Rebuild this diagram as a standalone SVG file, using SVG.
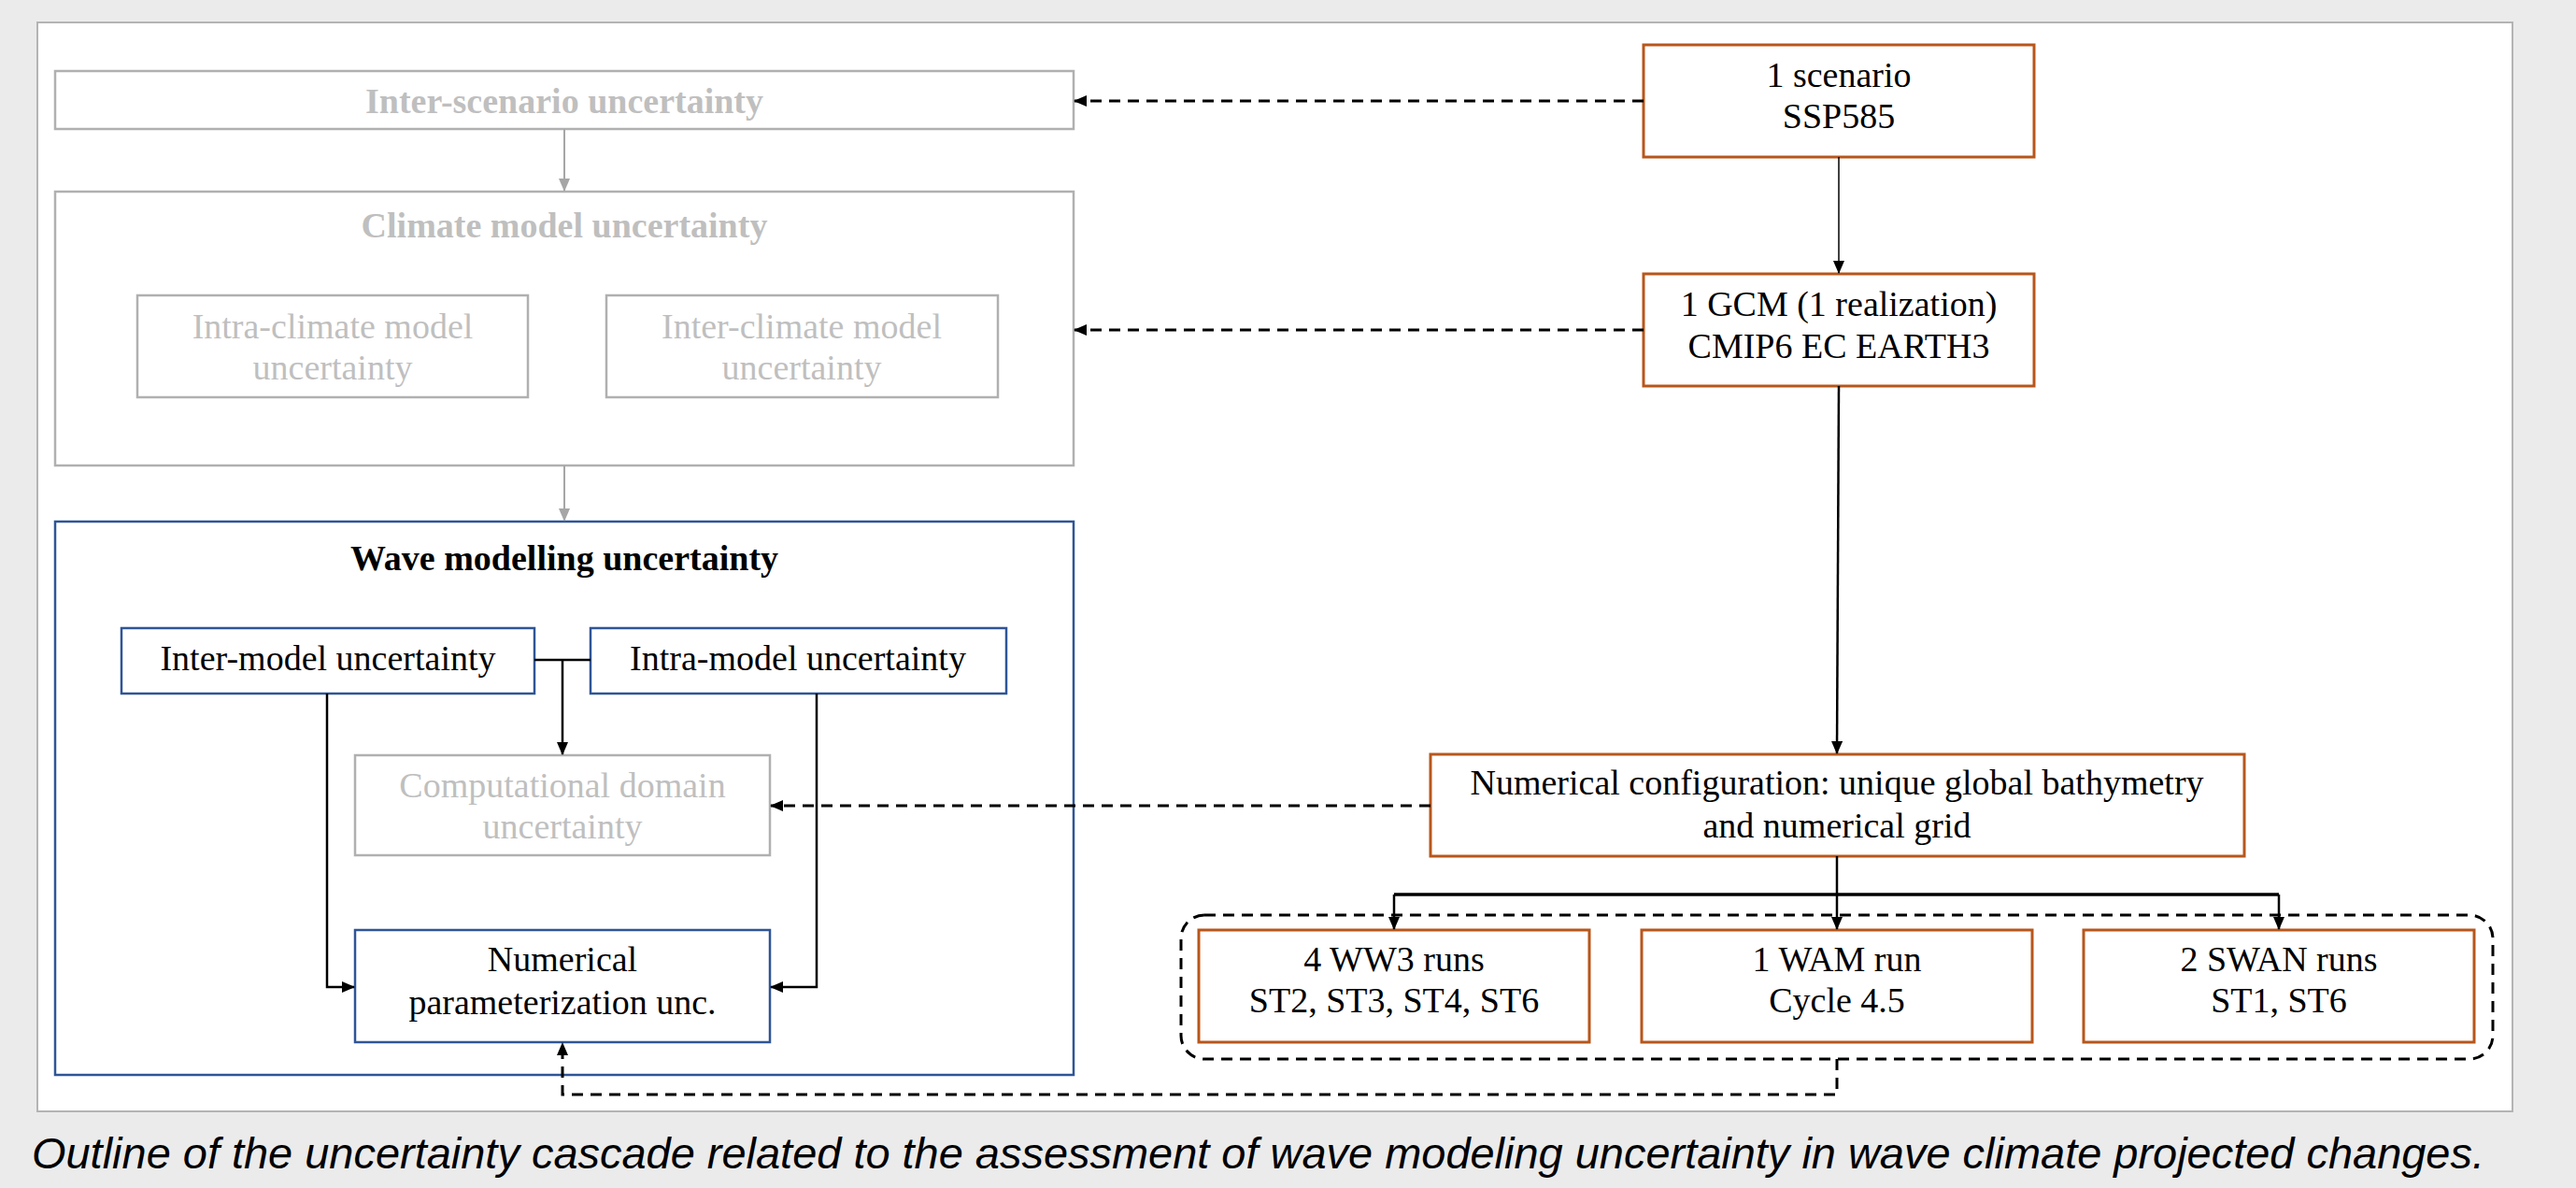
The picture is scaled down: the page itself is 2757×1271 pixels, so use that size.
<svg xmlns="http://www.w3.org/2000/svg" width="2757" height="1271" viewBox="0 0 2757 1271">
<defs>
<style>
.t{font-family:"Liberation Serif","Times New Roman",serif;font-size:38px;text-anchor:middle;fill:#000}
.tg{fill:#bfbfbf}
.b{font-weight:bold}
.gbox{fill:#fff;stroke:#b0b0b0;stroke-width:2.5}
.bbox{fill:#fff;stroke:#2f5597;stroke-width:2.5}
.obox{fill:#fff;stroke:#b8561b;stroke-width:3}
.c{fill:none;stroke:#000;stroke-width:2.5}
.cg{fill:none;stroke:#a6a6a6;stroke-width:2}
.d{fill:none;stroke:#000;stroke-width:3;stroke-dasharray:12 8}
.cap{font-family:"Liberation Sans",Arial,sans-serif;font-style:italic;font-size:47px;fill:#000}
</style>
<marker id="ab" markerUnits="userSpaceOnUse" markerWidth="14" markerHeight="12" refX="13" refY="6" orient="auto"><path d="M0,0 L14,6 L0,12 Z" fill="#000"/></marker>
<marker id="ag" markerUnits="userSpaceOnUse" markerWidth="14" markerHeight="12" refX="13" refY="6" orient="auto"><path d="M0,0 L14,6 L0,12 Z" fill="#a6a6a6"/></marker>
</defs>
<rect x="0" y="0" width="2757" height="1271" fill="#ebebeb"/>
<rect x="40" y="24" width="2649" height="1165" fill="#fff" stroke="#b4b4b4" stroke-width="2"/>

<g id="inter-scenario">
<rect class="gbox" x="59" y="76" width="1090" height="62"/>
<text class="t tg b" x="604" y="121">Inter-scenario uncertainty</text>
</g>
<g id="climate-model">
<rect class="gbox" x="59" y="205" width="1090" height="293"/>
<text class="t tg b" x="604" y="254">Climate model uncertainty</text>
</g>
<g id="intra-climate">
<rect class="gbox" x="147" y="316" width="418" height="109"/>
<text class="t tg" x="356" y="362">Intra-climate model</text>
<text class="t tg" x="356" y="406">uncertainty</text>
</g>
<g id="inter-climate">
<rect class="gbox" x="649" y="316" width="419" height="109"/>
<text class="t tg" x="858" y="362">Inter-climate model</text>
<text class="t tg" x="858" y="406">uncertainty</text>
</g>
<g id="wave-modelling">
<rect class="bbox" x="59" y="558" width="1090" height="592"/>
<text class="t b" x="604" y="610">Wave modelling uncertainty</text>
</g>
<g id="inter-model">
<rect class="bbox" x="130" y="672" width="442" height="70"/>
<text class="t" x="351" y="717">Inter-model uncertainty</text>
</g>
<g id="intra-model">
<rect class="bbox" x="632" y="672" width="445" height="70"/>
<text class="t" x="854" y="717">Intra-model uncertainty</text>
</g>
<g id="computational-domain">
<rect class="gbox" x="380" y="808" width="444" height="107"/>
<text class="t tg" x="602" y="853">Computational domain</text>
<text class="t tg" x="602" y="897">uncertainty</text>
</g>
<g id="numerical-parameterization">
<rect class="bbox" x="380" y="995" width="444" height="120"/>
<text class="t" x="602" y="1039">Numerical</text>
<text class="t" x="602" y="1085">parameterization unc.</text>
</g>
<g id="scenario">
<rect class="obox" x="1759" y="48" width="418" height="120"/>
<text class="t" x="1968" y="93">1 scenario</text>
<text class="t" x="1968" y="137">SSP585</text>
</g>
<g id="gcm">
<rect class="obox" x="1759" y="293" width="418" height="120"/>
<text class="t" x="1968" y="338">1 GCM (1 realization)</text>
<text class="t" x="1968" y="383">CMIP6 EC EARTH3</text>
</g>
<g id="numerical-configuration">
<rect class="obox" x="1531" y="807" width="871" height="109"/>
<text class="t" x="1966" y="850">Numerical configuration: unique global bathymetry</text>
<text class="t" x="1966" y="896">and numerical grid</text>
</g>
<g id="ww3">
<rect class="obox" x="1283" y="995" width="418" height="120"/>
<text class="t" x="1492" y="1039">4 WW3 runs</text>
<text class="t" x="1492" y="1083">ST2, ST3, ST4, ST6</text>
</g>
<g id="wam">
<rect class="obox" x="1757" y="995" width="418" height="120"/>
<text class="t" x="1966" y="1039">1 WAM run</text>
<text class="t" x="1966" y="1083">Cycle 4.5</text>
</g>
<g id="swan">
<rect class="obox" x="2230" y="995" width="418" height="120"/>
<text class="t" x="2439" y="1039">2 SWAN runs</text>
<text class="t" x="2439" y="1083">ST1, ST6</text>
</g>
<g id="runs-group">
<rect class="d" x="1264" y="979" width="1404" height="154" rx="25" ry="25"/>
</g>

<g id="connectors">
<path class="cg" d="M604,138 V204" marker-end="url(#ag)"/>
<path class="cg" d="M604,498 V557" marker-end="url(#ag)"/>
<path class="c" d="M572,706 H632"/>
<path class="c" d="M602,706 V807" marker-end="url(#ab)"/>
<path class="c" d="M350,742 V1056 H379" marker-end="url(#ab)"/>
<path class="c" d="M874,742 V1056 H825" marker-end="url(#ab)"/>
<path class="d" d="M1759,108 H1150" marker-end="url(#ab)"/>
<path class="d" d="M1759,353 H1150" marker-end="url(#ab)"/>
<path class="d" d="M1531,862 H825" marker-end="url(#ab)"/>
<path class="c" style="stroke-width:1.5" d="M1968,168 V292" marker-end="url(#ab)"/>
<path class="c" d="M1968,413 L1966,806" marker-end="url(#ab)"/>
<path class="c" d="M1966,916 V957"/>
<path class="c" style="stroke-width:3.5" d="M1492,957 H2439"/>
<path class="c" d="M1492,957 V994" marker-end="url(#ab)"/>
<path class="c" d="M1966,957 V994" marker-end="url(#ab)"/>
<path class="c" d="M2439,957 V994" marker-end="url(#ab)"/>
<path class="d" d="M1966,1133 V1171 H602 V1116" marker-end="url(#ab)"/>
</g>

<text class="cap" x="34" y="1250" textLength="2625" lengthAdjust="spacingAndGlyphs">Outline of the uncertainty cascade related to the assessment of wave modeling uncertainty in wave climate projected changes.</text>
</svg>
